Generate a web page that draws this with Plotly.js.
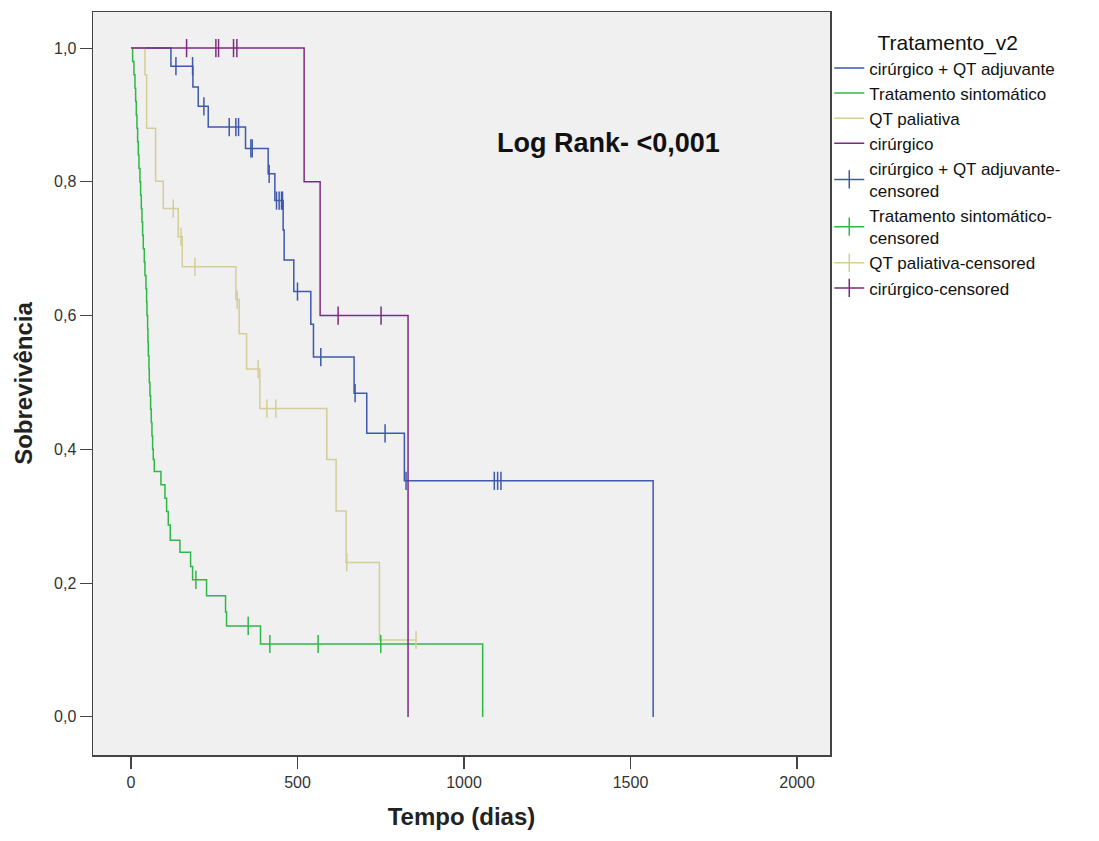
<!DOCTYPE html>
<html>
<head>
<meta charset="utf-8">
<script src="https://cdn.plot.ly/plotly-3.0.1.min.js"></script>
<style>body{margin:0;background:#fff;} #chart{width:1099px;height:841px;}</style>
</head>
<body>
<div id="chart"></div>
<script>
// ---- Data ----
const groupNames = ["cirúrgico + QT adjuvante", "Tratamento sintomático", "QT paliativa", "cirúrgico"];
const censorNames = ["cirúrgico + QT adjuvante-<br>censored", "Tratamento sintomático-<br>censored", "QT paliativa-censored", "cirúrgico-censored"];
const colors = ["#3e58ac", "#2eb848", "#d3ce97", "#7f2a82"];

// step curves: time (dias) and survival after each step
const adjTime = [0, 120, 186, 202, 232, 344, 412, 432, 457, 460, 489, 540, 548, 670, 708, 821, 1568];
const adjSurv = [1.0, 0.973, 0.942, 0.913, 0.882, 0.850, 0.812, 0.772, 0.728, 0.683, 0.636, 0.587, 0.538, 0.484, 0.424, 0.353, 0.0];
const adjCens = [135, 185, 219, 295, 315, 323, 360, 364, 415, 437, 445, 452, 455, 500, 570, 673, 763, 826, 1091, 1101, 1111];

const sintTime = [0, 5, 9, 12, 14, 16, 18, 20, 22, 24, 27, 29, 31, 33, 35, 37, 40, 42, 45, 47, 48, 50, 51, 52, 54, 55, 57, 59, 61, 63, 65, 67, 70, 90, 102, 107, 112, 118, 147, 179, 185, 227, 284, 287, 389, 1056];
const sintSurv = [1.0, 0.98, 0.96, 0.94, 0.92, 0.90, 0.88, 0.86, 0.84, 0.82, 0.80, 0.78, 0.76, 0.74, 0.72, 0.70, 0.68, 0.66, 0.64, 0.62, 0.60, 0.58, 0.56, 0.54, 0.52, 0.50, 0.48, 0.46, 0.44, 0.42, 0.40, 0.385, 0.367, 0.347, 0.327, 0.307, 0.287, 0.264, 0.246, 0.225, 0.205, 0.181, 0.157, 0.136, 0.109, 0.0];
const sintCens = [195, 352, 417, 562, 750];

const palTime = [0, 42, 47, 74, 97, 142, 154, 315, 325, 347, 387, 588, 616, 646, 746, 858];
const palSurv = [1.0, 0.96, 0.88, 0.801, 0.760, 0.718, 0.673, 0.624, 0.573, 0.520, 0.461, 0.385, 0.308, 0.231, 0.115, 0.115];
const palCens = [127, 150, 192, 319, 382, 408, 435, 648, 856];

const cirTime = [0, 520, 568, 832];
const cirSurv = [1.0, 0.8, 0.6, 0.0];
const cirCens = [167, 255, 263, 308, 318, 622, 751];

// ---- build traces ----
const curves = [
  {t: adjTime, s: adjSurv, c: adjCens},
  {t: sintTime, s: sintSurv, c: sintCens},
  {t: palTime, s: palSurv, c: palCens},
  {t: cirTime, s: cirSurv, c: cirCens}
];

function survAt(t, times, surv) {
  let v = surv[0];
  for (let i = 0; i < times.length; i++) { if (times[i] <= t && surv[i] > 0) v = surv[i]; }
  return v;
}

const traces = [];
curves.forEach((cv, i) => {
  traces.push({
    type: "scatter", mode: "lines", x: cv.t, y: cv.s, name: groupNames[i],
    line: {shape: "hv", color: colors[i], width: 1.5}, legendrank: i + 1
  });
});
curves.forEach((cv, i) => {
  const xs = [], ys = [];
  cv.c.forEach(t => { xs.push(t, null); ys.push(survAt(t, cv.t, cv.s), null); });
  traces.push({
    type: "scatter", mode: "lines+markers", x: xs, y: ys, name: censorNames[i],
    connectgaps: false,
    line: {color: colors[i], width: 1.5},
    marker: {symbol: "line-ns-open", size: 13, color: colors[i], line: {color: colors[i], width: 1.5}},
    legendrank: i + 5
  });
});

const titleFont = {size: 24, color: "#222", family: "Liberation Sans Narrow, Liberation Sans, Arial, sans-serif", weight: "bold"};

const layout = {
  width: 1099, height: 841,
  margin: {l: 93, r: 269, t: 12, b: 86},
  paper_bgcolor: "#ffffff", plot_bgcolor: "#f0f0f0",
  separators: ",.",
  font: {family: "Liberation Sans, Arial, sans-serif", size: 16, color: "#333"},
  xaxis: {
    range: [-114, 2099], tickvals: [0, 500, 1000, 1500, 2000], ticktext: ["0", "500", "1000", "1500", "2000"],
    showgrid: false, zeroline: false, showline: true, mirror: true, linecolor: "#444", linewidth: 1.5,
    ticks: "outside", ticklen: 12, tickcolor: "#444", tickwidth: 1.2,
    tickfont: {size: 16, color: "#333"},
    title: {text: "Tempo (dias)", font: titleFont, standoff: 18}
  },
  yaxis: {
    range: [-0.057, 1.054], tickvals: [0, 0.2, 0.4, 0.6, 0.8, 1.0], tickformat: ".1f",
    showgrid: false, zeroline: false, showline: true, mirror: true, linecolor: "#444", linewidth: 1.5,
    ticks: "outside", ticklen: 12, tickcolor: "#444", tickwidth: 1.2,
    tickfont: {size: 16, color: "#333"},
    title: {text: "Sobrevivência", font: titleFont, standoff: 14}
  },
  legend: {
    x: 0.999, xanchor: "left", y: 0.985, yanchor: "top",
    bgcolor: "rgba(0,0,0,0)", borderwidth: 0, tracegroupgap: 0,
    font: {size: 17, color: "#111"},
    title: {text: "Tratamento_v2", side: "top center", font: {size: 21, color: "#111"}},
    itemwidth: 30
  },
  annotations: [{
    x: 1435, y: 0.858, xref: "x", yref: "y", text: "Log Rank- <0,001", showarrow: false,
    font: {size: 27, color: "#111", weight: "bold"}
  }]
};

Plotly.newPlot("chart", traces, layout, {displayModeBar: false, staticPlot: true});
</script>
</body>
</html>
